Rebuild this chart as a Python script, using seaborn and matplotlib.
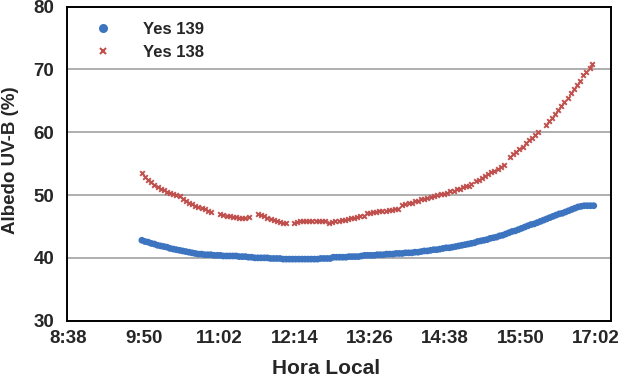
import matplotlib
matplotlib.use("Agg")
import matplotlib.pyplot as plt
from matplotlib.lines import Line2D
import seaborn as sns
import pandas as pd

# ---- data (minutes since midnight, albedo %) ----
blue_time = [588, 591, 594, 597, 600, 603, 606, 609, 612, 615, 618, 621, 624, 627, 630, 633, 636, 639,
             642, 645, 648, 651, 654, 657, 660, 663, 666, 669, 672, 675, 678, 681, 684, 687, 690, 693,
             696, 699, 702, 705, 708, 711, 714, 717, 720, 723, 726, 729, 732, 735, 738, 741, 744, 747,
             750, 753, 756, 759, 762, 765, 768, 771, 774, 777, 780, 783, 786, 789, 792, 795, 798, 801,
             804, 807, 810, 813, 816, 819, 822, 825, 828, 831, 834, 837, 840, 843, 846, 849, 852, 855,
             858, 861, 864, 867, 870, 873, 876, 879, 882, 885, 888, 891, 894, 897, 900, 903, 906, 909,
             912, 915, 918, 921, 924, 927, 930, 933, 936, 939, 942, 945, 948, 951, 954, 957, 960, 963,
             966, 969, 972, 975, 978, 981, 984, 987, 990, 993, 996, 999, 1002, 1005, 1008, 1011, 1014,
             1017, 1020]
blue_val = [42.8, 42.6, 42.5, 42.3, 42.2, 42.0, 41.9, 41.8, 41.7, 41.5, 41.4, 41.3, 41.2, 41.1, 41.0,
            40.9, 40.8, 40.7, 40.6, 40.6, 40.5, 40.5, 40.5, 40.4, 40.4, 40.4, 40.3, 40.3, 40.3, 40.3,
            40.3, 40.2, 40.2, 40.2, 40.1, 40.1, 40.0, 40.0, 40.0, 40.0, 40.0, 39.9, 39.9, 39.9, 39.9,
            39.8, 39.8, 39.8, 39.8, 39.8, 39.8, 39.8, 39.8, 39.8, 39.8, 39.8, 39.8, 39.9, 39.9, 39.9,
            39.9, 40.1, 40.1, 40.1, 40.1, 40.1, 40.2, 40.2, 40.2, 40.2, 40.3, 40.4, 40.4, 40.4, 40.4,
            40.5, 40.5, 40.5, 40.6, 40.6, 40.6, 40.7, 40.7, 40.7, 40.8, 40.8, 40.8, 40.9, 40.9, 41.0,
            41.1, 41.1, 41.2, 41.3, 41.3, 41.4, 41.5, 41.6, 41.6, 41.7, 41.8, 41.9, 42.0, 42.1, 42.2,
            42.3, 42.4, 42.6, 42.7, 42.8, 42.9, 43.1, 43.2, 43.3, 43.5, 43.6, 43.8, 44.0, 44.2, 44.3,
            44.5, 44.7, 44.9, 45.1, 45.3, 45.4, 45.6, 45.8, 46.0, 46.2, 46.4, 46.6, 46.8, 47.0, 47.1,
            47.3, 47.5, 47.7, 47.9, 48.1, 48.2, 48.3, 48.3, 48.3, 48.3]

red_time = [588, 591, 594, 597, 600, 603, 606, 609, 612, 615, 618, 621, 624,
            627, 630, 633, 636, 639, 642, 645, 648, 651, 654,
            663, 666, 669, 672, 675, 678, 681, 684, 687, 690,
            699, 702, 705, 708, 711, 714, 717, 720, 723, 726,
            733, 736, 739, 742, 745, 748, 751, 754, 757, 760, 763,
            767, 770, 773, 776, 779, 782, 785, 788, 791, 794, 797, 800,
            803, 806, 809, 812, 815, 818, 821, 824, 827, 830, 833,
            837, 840, 843, 846, 849, 852, 855, 858, 861, 864, 867, 870,
            874, 877, 880, 883, 886, 889, 892, 895, 898, 901, 903,
            907, 910, 913, 916, 919, 922, 925, 928, 931, 934,
            940, 943, 946, 949, 952, 955, 958, 961, 964, 967,
            974, 977, 980, 983, 986, 989, 992, 995, 998, 1001, 1004, 1007,
            1010, 1013, 1016, 1018]
red_val = [53.5, 52.9, 52.4, 52.0, 51.6, 51.3, 51.0, 50.8, 50.5, 50.3, 50.2, 50.0, 49.9,
           49.3, 49.0, 48.8, 48.5, 48.3, 48.1, 47.9, 47.7, 47.5, 47.3,
           47.0, 46.8, 46.7, 46.6, 46.5, 46.5, 46.4, 46.4, 46.4, 46.5,
           47.0, 46.8, 46.6, 46.4, 46.2, 46.0, 45.9, 45.7, 45.6, 45.5,
           45.6, 45.7, 45.8, 45.8, 45.8, 45.9, 45.9, 45.9, 45.8, 45.8, 45.8,
           45.6, 45.7, 45.8, 45.9, 46.0, 46.1, 46.2, 46.3, 46.4, 46.5, 46.6, 46.7,
           47.1, 47.2, 47.3, 47.3, 47.4, 47.5, 47.5, 47.6, 47.6, 47.7, 47.7,
           48.4, 48.5, 48.7, 48.8, 49.0, 49.1, 49.3, 49.4, 49.6, 49.7, 49.9, 50.0,
           50.1, 50.2, 50.4, 50.6, 50.7, 50.9, 51.0, 51.2, 51.4, 51.5, 51.7,
           52.2, 52.4, 52.7, 53.0, 53.3, 53.6, 53.9, 54.2, 54.5, 54.8,
           56.1, 56.5, 56.9, 57.3, 57.7, 58.2, 58.7, 59.1, 59.6, 60.1,
           61.2, 61.7, 62.3, 62.9, 63.5, 64.1, 64.8, 65.5, 66.2, 66.9, 67.5, 68.1,
           69.1, 69.6, 70.2, 70.8]

series_labels = ["Yes 139", "Yes 138"]
x_ticks = [518, 590, 662, 734, 806, 878, 950, 1022]
x_tick_labels = ["8:38", "9:50", "11:02", "12:14", "13:26", "14:38", "15:50", "17:02"]
y_ticks = [30, 40, 50, 60, 70, 80]

BLUE = "#3C74C0"
RED = "#C0504D"

sns.set_style("white")
plt.rcParams["font.family"] = ["Liberation Sans", "DejaVu Sans"]

fig = plt.figure(figsize=(6.22, 3.78), dpi=100)
ax = fig.add_axes([0.1072, 0.1516, 0.8746, 0.8312])

blue_df = pd.DataFrame({"t": blue_time, "v": blue_val})
red_df = pd.DataFrame({"t": red_time, "v": red_val})

sns.scatterplot(data=blue_df, x="t", y="v", ax=ax, color=BLUE, marker="o", s=24,
                linewidth=0, edgecolor="none", zorder=3, legend=False)
sns.scatterplot(data=red_df, x="t", y="v", ax=ax, color=RED, marker="x", s=11,
                linewidth=1.4, zorder=3, legend=False)

ax.set_xlim(516.1, 1036.2)
ax.set_ylim(30, 80)
ax.set_xticks(x_ticks)
ax.set_xticklabels(x_tick_labels)
ax.set_yticks(y_ticks)
ax.tick_params(axis="both", length=0, labelsize=13.5)
ax.tick_params(axis="x", pad=7)
ax.tick_params(axis="y", pad=9)
for lab in ax.get_xticklabels() + ax.get_yticklabels():
    lab.set_fontweight("bold")

ax.yaxis.grid(True, color="#A8A8A8", linewidth=1.3)
ax.xaxis.grid(False)
ax.set_axisbelow(True)
for sp in ax.spines.values():
    sp.set_visible(True)
    sp.set_color("black")
    sp.set_linewidth(1.4)

ax.set_xlabel("Hora Local", fontsize=15, fontweight="bold")
ax.set_ylabel("Albedo UV-B (%)", fontsize=13.5, fontweight="bold")
ax.xaxis.set_label_coords(0.477, -0.122)
ax.yaxis.set_label_coords(-0.088, 0.51)

handles = [Line2D([], [], linestyle="none", marker="o", color=BLUE, markersize=6.5, markeredgewidth=0),
           Line2D([], [], linestyle="none", marker="x", color=RED, markersize=5.0, markeredgewidth=1.5)]
leg = ax.legend(handles, series_labels, loc="upper left", bbox_to_anchor=(0.0507, 0.950),
                frameon=False, borderpad=0, borderaxespad=0, handlelength=1.0,
                handletextpad=1.9, labelspacing=0.47,
                prop={"family": ["Liberation Sans"], "weight": "bold", "size": 12})

fig.savefig("out.png", dpi=100)
